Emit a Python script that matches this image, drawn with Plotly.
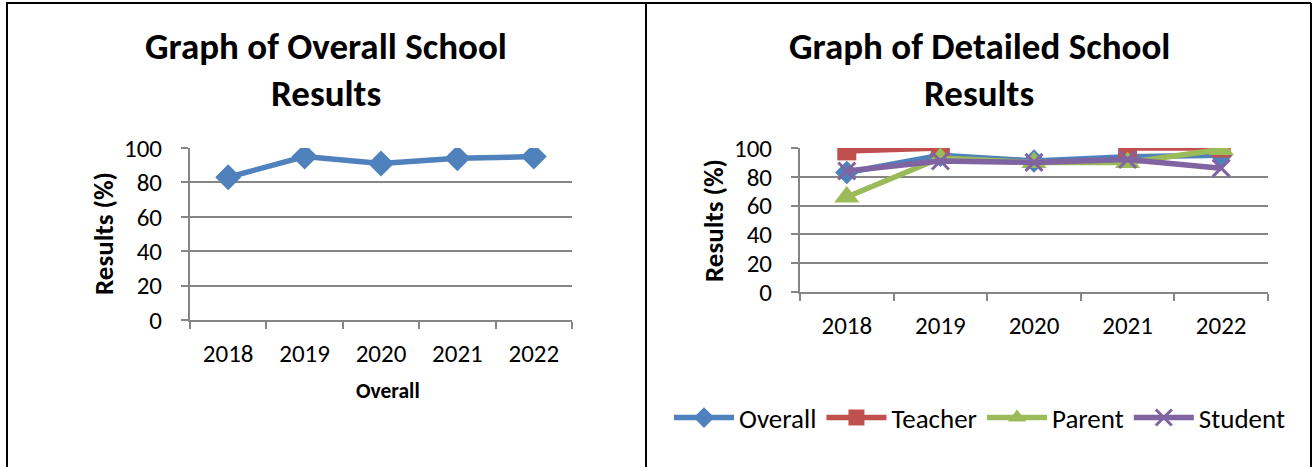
import plotly.graph_objects as go

# School survey results, percent
years = ["2018", "2019", "2020", "2021", "2022"]
overall = [83, 95, 91, 94, 95]
teacher = [98, 100, None, 100, 100]
parent = [66, 93, 90, 90, 99]
student = [84, 91, 90, 92, 86]

series_names = ["Overall", "Teacher", "Parent", "Student"]
y_ticks = [0, 20, 40, 60, 80, 100]

W, H = 1316, 467
FONT = "Carlito, Calibri, Lato, sans-serif"
GRID = "#868686"
COLORS = {"Overall": "#4F81BD", "Teacher": "#C0504D",
          "Parent": "#9BBB59", "Student": "#8064A2"}
SYMBOLS = {"Overall": "diamond", "Teacher": "square",
           "Parent": "triangle-up", "Student": "x-thin"}
SIZES = {"Overall": 18, "Teacher": 19, "Parent": 22, "Student": 17}


def px(x):
    return x / W


def py(y):
    return 1 - y / H


fig = go.Figure()

# Left chart: overall results only
fig.add_trace(go.Scatter(
    x=years, y=overall, mode="lines+markers", name="Overall",
    xaxis="x", yaxis="y", showlegend=False,
    line=dict(color=COLORS["Overall"], width=5.5),
    marker=dict(symbol="diamond", size=20, color=COLORS["Overall"]),
))

# Right chart: breakdown by group
values = {"Overall": overall, "Teacher": teacher,
          "Parent": parent, "Student": student}
for name in series_names:
    sym = SYMBOLS[name]
    marker = dict(symbol=sym, size=SIZES[name], color=COLORS[name])
    if sym == "x-thin":
        marker["line"] = dict(color=COLORS[name], width=3)
    fig.add_trace(go.Scatter(
        x=years, y=values[name], mode="lines+markers", name=name,
        xaxis="x2", yaxis="y2", connectgaps=False,
        line=dict(color=COLORS[name], width=5.5),
        marker=marker,
    ))

xaxis_common = dict(
    type="category", range=[-0.5, 4.5], tickson="boundaries",
    ticks="outside", ticklen=7, tickwidth=2, tickcolor=GRID,
    showline=True, linecolor=GRID, linewidth=2, showgrid=False,
    zeroline=False, tickfont=dict(family=FONT, size=25, color="#000"),
    ticklabelstandoff=10, fixedrange=True, automargin=False,
)
yaxis_common = dict(
    range=[0, 100], tickvals=y_ticks, ticks="outside", ticklen=7,
    tickwidth=2, tickcolor=GRID, showline=True, linecolor=GRID,
    linewidth=2, showgrid=True, gridcolor=GRID, gridwidth=2,
    zeroline=False, tickfont=dict(family=FONT, size=25, color="#000"),
    ticklabelstandoff=14, fixedrange=True, automargin=False,
)

fig.update_layout(
    width=W, height=H, autosize=False,
    margin=dict(l=0, r=0, t=0, b=0, pad=0, autoexpand=False),
    paper_bgcolor="white", plot_bgcolor="white",
    font=dict(family=FONT, color="#000"),
    xaxis=dict(domain=[px(190), px(572)], anchor="y", **xaxis_common),
    yaxis=dict(domain=[py(320), py(148)], anchor="x", **yaxis_common),
    xaxis2=dict(domain=[px(800), px(1268)], anchor="y2", **xaxis_common),
    yaxis2=dict(domain=[py(292), py(148)], anchor="x2", **yaxis_common),
    legend=dict(
        orientation="h", x=px(669), y=py(418), xanchor="left",
        yanchor="middle", font=dict(family=FONT, size=27, color="#000"),
        itemwidth=60, bgcolor="rgba(0,0,0,0)", tracegroupgap=0,
    ),
)

# Titles and axis titles
annotations = [
    (326, 47, "Graph of Overall School", 37, 0),
    (326, 94, "Results", 37, 0),
    (979, 47, "Graph of Detailed School", 37, 0),
    (979, 94, "Results", 37, 0),
    (388, 391, "Overall", 21.5, 0),
    (103, 234, "Results (%)", 27, 270),
    (713, 221, "Results (%)", 27, 270),
]
for x, y, text, size, angle in annotations:
    fig.add_annotation(
        x=px(x), y=py(y), xref="paper", yref="paper", text=f"<b>{text}</b>",
        showarrow=False, xanchor="center", yanchor="middle", textangle=angle,
        font=dict(family=FONT, size=size, color="#000"),
    )

# Table frame around the two charts
frame = [
    (6, 3, 1311, 3), (7, 3, 7, H), (646, 3, 646, H), (1311, 3, 1311, H),
]
for x0, y0, x1, y1 in frame:
    fig.add_shape(type="line", xref="paper", yref="paper",
                  x0=px(x0), y0=py(y0), x1=px(x1), y1=py(y1),
                  line=dict(color="#000", width=2))

fig.write_html("out.html", config={"responsive": False})
